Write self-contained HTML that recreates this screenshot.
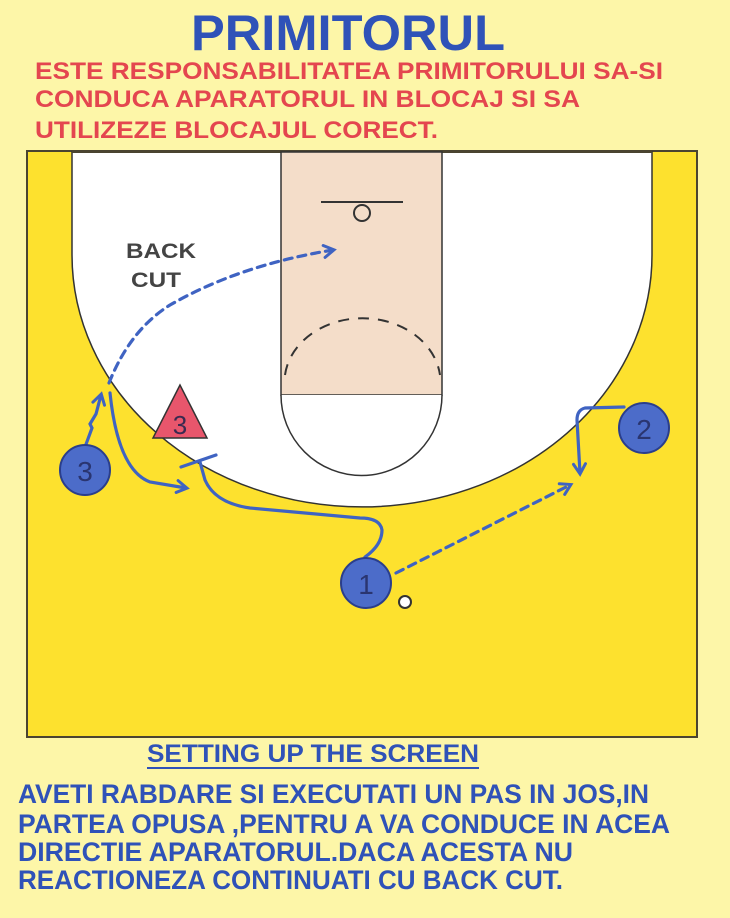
<!DOCTYPE html>
<html><head><meta charset="utf-8"><style>
html,body{margin:0;padding:0;background:#fdf6a8;}
svg{display:block;}
text{font-family:"Liberation Sans",Arial,sans-serif;font-weight:bold;}
</style></head><body>
<svg width="730" height="918" viewBox="0 0 730 918" xmlns="http://www.w3.org/2000/svg">
<defs>
<marker id="ah" markerWidth="16" markerHeight="16" refX="11" refY="8" orient="auto" markerUnits="userSpaceOnUse" viewBox="0 0 16 16">
<path d="M2,2 L12,8 L2,14" fill="none" stroke="#3f63c2" stroke-width="3" stroke-linecap="round"/>
</marker>
</defs>
<rect width="730" height="918" fill="#fdf6a8"/>
<text x="191" y="50" font-size="50" fill="#2f52b8" textLength="314" lengthAdjust="spacingAndGlyphs">PRIMITORUL</text>
<g fill="#e4464f" font-size="24">
<text x="35" y="79" textLength="628" lengthAdjust="spacingAndGlyphs">ESTE RESPONSABILITATEA PRIMITORULUI SA-SI</text>
<text x="35" y="107" textLength="545" lengthAdjust="spacingAndGlyphs">CONDUCA APARATORUL IN BLOCAJ SI SA</text>
<text x="35" y="138" textLength="403" lengthAdjust="spacingAndGlyphs">UTILIZEZE BLOCAJUL CORECT.</text>
</g>
<!-- court -->
<rect x="27" y="151" width="670" height="586" fill="#fde12e" stroke="#4a4430" stroke-width="2"/>
<path d="M72,152 L72,255 A290,252 0 0 0 652,255 L652,152 Z" fill="#fff" stroke="#333" stroke-width="1.5"/>
<path d="M72,152 L652,152" stroke="#4a4430" stroke-width="2"/>
<rect x="281" y="152" width="161" height="243" fill="#f4ddc9" stroke="#333" stroke-width="1.5"/>
<path d="M281,395 A80,80 0 0 0 442,395" fill="#fff" stroke="#333" stroke-width="1.5"/>
<line x1="321" y1="202" x2="403" y2="202" stroke="#333" stroke-width="2"/>
<ellipse cx="362" cy="213" rx="8" ry="8" fill="none" stroke="#333" stroke-width="2"/>
<path d="M285,375 A78,64 0 0 1 440,375" fill="none" stroke="#333" stroke-width="2" stroke-dasharray="11,9"/>
<text x="126" y="258" font-size="21" fill="#444" textLength="70" lengthAdjust="spacingAndGlyphs">BACK</text>
<text x="131" y="287" font-size="21" fill="#444" textLength="50" lengthAdjust="spacingAndGlyphs">CUT</text>
<!-- paths -->
<g fill="none" stroke="#3f63c2" stroke-width="3.2" stroke-linecap="round">
<path d="M85,447 L92,428 L90,424 L96,414 L101,395" marker-end="url(#ah)"/>
<path d="M109,383 Q130,330 170,305 Q240,265 333,250" stroke-dasharray="8,6" marker-end="url(#ah)"/>
<path d="M110,393 Q118,470 150,482 L186,488" marker-end="url(#ah)"/>
<path d="M365,557 Q382,545 382,530 Q380,518 360,518 L250,508 Q215,503 205,480 L200,462"/>
<line x1="181" y1="467" x2="216" y2="455"/>
<path d="M396,573 L570,485" stroke-dasharray="8,6" marker-end="url(#ah)"/>
<path d="M624,407 L585,408 Q577,410 577,420 L580,473" marker-end="url(#ah)"/>
</g>
<!-- players -->
<g fill="#4c6cc9" stroke="#2a3e8c" stroke-width="2">
<circle cx="85" cy="470" r="25"/>
<circle cx="644" cy="428" r="25"/>
<circle cx="366" cy="583" r="25"/>
</g>
<g fill="#2a3570" font-size="28" text-anchor="middle">
<text x="85" y="481" style="font-weight:normal">3</text>
<text x="644" y="439" style="font-weight:normal">2</text>
<text x="366" y="594" style="font-weight:normal">1</text>
</g>
<circle cx="405" cy="602" r="6" fill="#fff" stroke="#333" stroke-width="2"/>
<polygon points="180,385 153,438 207,438" fill="#e8566c" stroke="#333" stroke-width="1.5"/>
<text x="180" y="434" font-size="26" fill="#3a2a50" text-anchor="middle" style="font-weight:normal">3</text>
<!-- bottom text -->
<text x="147" y="762" font-size="25" fill="#2f52b8" textLength="332" lengthAdjust="spacingAndGlyphs">SETTING UP THE SCREEN</text>
<line x1="147" y1="768" x2="479" y2="768" stroke="#2f52b8" stroke-width="2"/>
<g fill="#2f52b8" font-size="27">
<text x="18" y="803" textLength="631" lengthAdjust="spacingAndGlyphs">AVETI RABDARE SI EXECUTATI UN PAS IN JOS,IN</text>
<text x="18" y="833" textLength="652" lengthAdjust="spacingAndGlyphs">PARTEA OPUSA ,PENTRU A VA CONDUCE IN ACEA</text>
<text x="18" y="861" textLength="555" lengthAdjust="spacingAndGlyphs">DIRECTIE APARATORUL.DACA ACESTA NU</text>
<text x="18" y="889" textLength="545" lengthAdjust="spacingAndGlyphs">REACTIONEZA CONTINUATI CU BACK CUT.</text>
</g>
</svg>
</body></html>
